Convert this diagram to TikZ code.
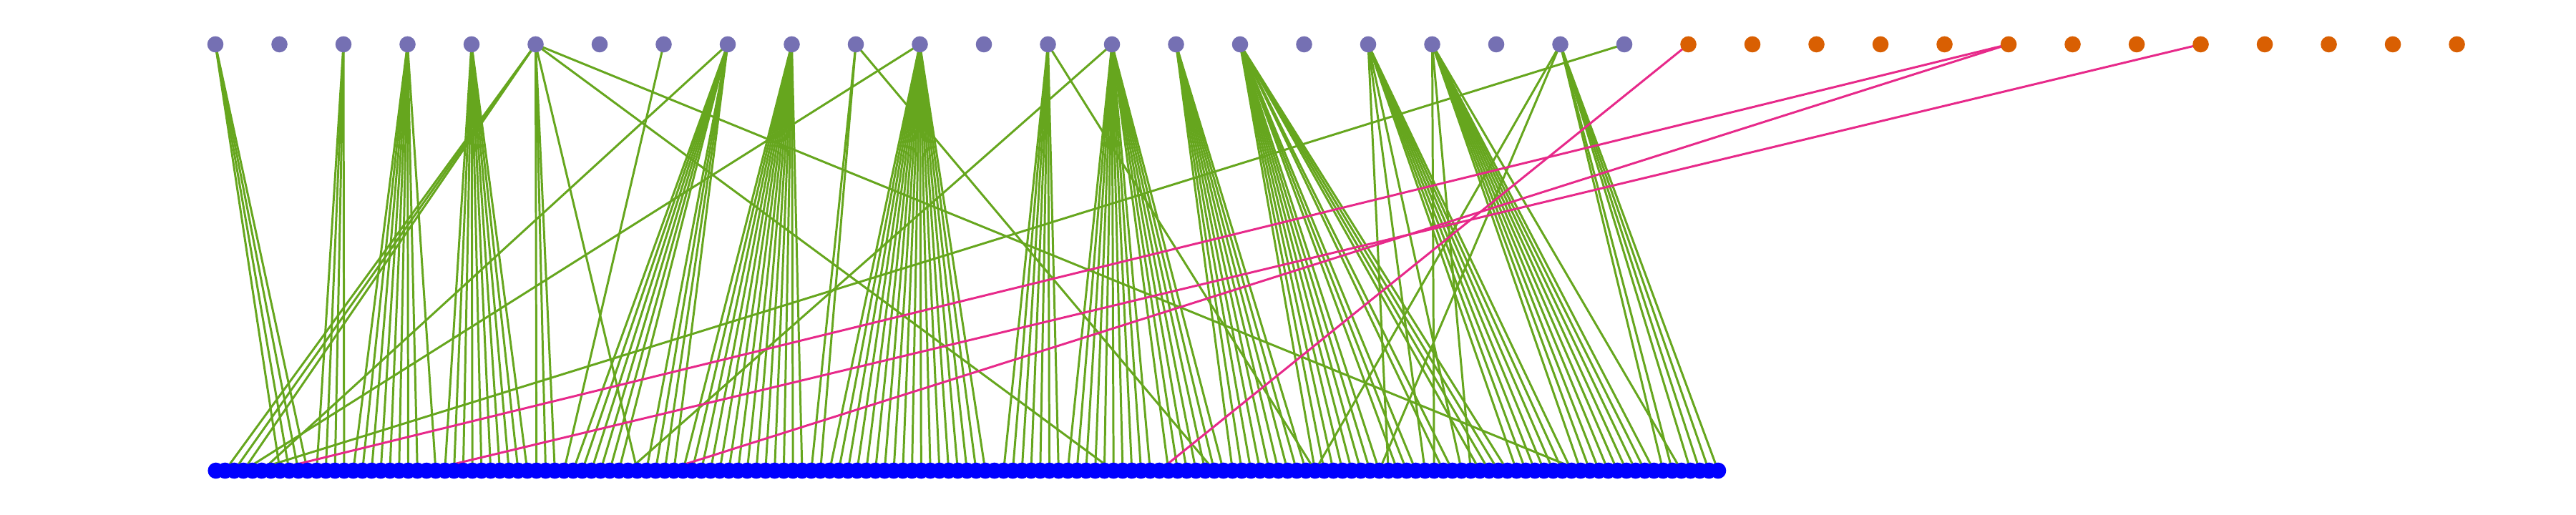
\documentclass[tikz,border=0pt]{standalone}
\definecolor{cpurple}{HTML}{7570B3}
\definecolor{corange}{HTML}{D95F02}
\definecolor{cgreen}{HTML}{66A61E}
\definecolor{cpink}{HTML}{E7298A}
\definecolor{cblue}{HTML}{0000FF}
\pgfdeclarelayer{bg}
\pgfsetlayers{bg,main}
\begin{document}
\begin{tikzpicture}[x=1cm,y=1cm,
 dot/.style={circle,inner sep=0pt,minimum size=0.226cm,draw=none},
 topA/.style={dot,fill=cpurple},
 topB/.style={dot,fill=corange},
 bot/.style={dot,fill=cblue},
 gedge/.style={draw=cgreen,line width=0.85pt},
 pedge/.style={draw=cpink,line width=0.85pt}]
\useasboundingbox (0,0) rectangle (36,7.2);
\foreach \i in {0,...,22} \node[topA] (t\i) at ({3.01+0.895*\i},6.58) {};
\foreach \i in {23,...,35} \node[topB] (t\i) at ({3.01+0.895*\i},6.58) {};
\foreach \j in {0,...,164} \node[bot] (b\j) at ({3.017+0.128*\j},0.62) {};
\begin{pgfonlayer}{bg}
\foreach \s/\l in {
  0/{7,8,9,10},
  2/{11,12,13,14},
  3/{15,16,17,18,19,20,21,22,24},
  4/{25,26,27,28,29,30,31,32,33,34},
  5/{1,2,3,35,36,37,46,98,149},
  7/{38},
  8/{5,39,40,41,42,43,44,47,48,49,50},
  9/{51,52,53,54,55,56,57,58,59,60,61,62,63,64},
  10/{65,66,109},
  11/{3,67,68,69,70,71,72,73,74,75,76,77,78,79,80,81,82,83,84},
  13/{86,87,88,89,90,91,92,120},
  14/{45,93,94,95,96,97,98,99,100,101,102,104,105,106,107,108,109,110},
  15/{111,112,113,114,115,116,117,118,119},
  16/{120,121,122,123,124,125,126,127,129,130,131,134,135,138,139,140,141},
  18/{128,132,136,142,143,144,145,146,147,148},
  19/{133,137,149,150,151,152,153,154,155,156,157,160},
  21/{120,127,158,159,161,162,163,164},
  22/{4}}
  {\foreach \j in \l {\draw[gedge] (t\s.center) -- (b\j.center);}}
\foreach \s/\j in {23/103, 28/6, 28/49, 31/23}
  {\draw[pedge] (t\s.center) -- (b\j.center);}
\end{pgfonlayer}
\end{tikzpicture}
\end{document}
